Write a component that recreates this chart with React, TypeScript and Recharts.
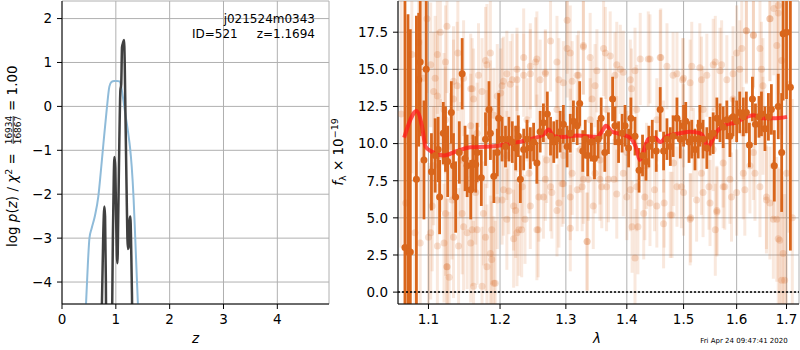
import {
  CartesianGrid,
  ComposedChart,
  ErrorBar,
  Line,
  ReferenceLine,
  Scatter,
  XAxis,
  YAxis,
} from 'recharts'

const FONT = 'DejaVu Sans, sans-serif'
const ORANGE = '#d9661c'

// left panel: log p(z)
const zTicks = [0, 1, 2, 3, 4]
const lnpTicks = [-4, -3, -2, -1, 0, 1, 2]

const zBlue = [0.4, 0.446, 0.48, 0.51, 0.55, 0.61, 0.675, 0.72, 0.77, 0.83, 0.88, 0.92, 0.97, 1.02, 1.07, 1.1, 1.14, 1.18, 1.23, 1.265, 1.295, 1.33, 1.357, 1.39, 1.41, 1.45]
const lnpBlue = [-6, -4.5, -3.6, -3.0, -2.78, -2.5, -2.05, -1.5, -0.84, -0.08, 0.45, 0.56, 0.58, 0.58, 0.57, 0.45, 0.14, -0.2, -0.61, -0.95, -1.37, -2.1, -2.89, -3.9, -4.5, -6]

const zBlack = [0.7, 0.74, 0.765, 0.787, 0.8, 0.815, 0.83, 0.88, 0.925, 0.945, 0.962, 0.975, 0.99, 1.005, 1.02, 1.03, 1.045, 1.065, 1.085, 1.1, 1.115, 1.135, 1.152, 1.165, 1.18, 1.2, 1.215, 1.227, 1.24, 1.255, 1.27, 1.285, 1.3, 1.315, 1.36]
const lnpBlack = [-9, -4.6, -3.0, -2.28, -2.5, -4.0, -7, -9, -5.5, -3.0, -1.6, -1.15, -1.4, -2.5, -3.4, -3.57, -2.5, -0.8, 0.37, 0.5, 1.35, 1.45, 1.51, 1.0, -0.3, -1.9, -3.0, -3.25, -3.2, -2.6, -2.51, -3.2, -4.3, -6, -9]

// right panel: spectrum
const lamTicks = [1.1, 1.2, 1.3, 1.4, 1.5, 1.6, 1.7]
const fluxTicks = [0, 2.5, 5, 7.5, 10, 12.5, 15, 17.5]
const LAM_DOMAIN = [1.06, 1.726]
const FLUX_DOMAIN = [-0.8, 19.6]

const upperLam = [
  1.125, 1.116, 1.103, 1.093, 1.107, 1.112, 1.121, 1.123, 1.134, 1.139,
  1.148, 1.158, 1.162, 1.174, 1.181, 1.186, 1.191, 1.196, 1.201, 1.203,
  1.21, 1.218, 1.225, 1.235, 1.245, 1.253, 1.26, 1.268, 1.276, 1.286,
  1.296, 1.302, 1.307, 1.318, 1.328, 1.339, 1.35, 1.361, 1.372, 1.383,
  1.394, 1.406, 1.414, 1.423, 1.44, 1.458, 1.47, 1.488, 1.5, 1.512,
  1.53, 1.543, 1.555, 1.568, 1.581, 1.593, 1.606, 1.619, 1.633, 1.646,
  1.652, 1.666, 1.68, 1.69, 1.683, 1.098, 1.087, 1.205, 1.215, 1.225,
  1.235, 1.245, 1.255, 1.268, 1.289, 1.302, 1.31, 1.32, 1.328, 1.342,
  1.347, 1.364, 1.38, 1.389, 1.408, 1.437, 1.459, 1.481, 1.498, 1.515,
  1.533, 1.559, 1.571, 1.6, 1.61, 1.619, 1.633, 1.649, 1.666, 1.674,
  1.683, 1.112, 1.123, 1.109, 1.134, 1.14, 1.169, 1.179, 1.186, 1.16,
]
const upperFlux = [
  17.9, 17.5, 15.3, 14.4, 13.5, 13.2, 12.3, 11.6, 13.0, 13.9,
  14.4, 13.7, 13.0, 13.5, 15.3, 12.3, 11.9, 13.2, 13.4, 13.9,
  14.7, 14.3, 15.0, 15.8, 15.2, 15.5, 14.3, 14.8, 16.9, 15.5,
  14.1, 18.3, 16.1, 14.6, 16.6, 15.8, 14.9, 16.4, 15.9, 15.3,
  14.8, 14.3, 14.9, 15.7, 15.7, 15.8, 15.2, 14.7, 14.4, 14.1,
  15.1, 14.6, 15.3, 14.9, 14.3, 14.7, 15.0, 17.6, 17.3, 16.4,
  13.9, 18.4, 16.6, 15.6, 18.8, 18.4, 16.8, 14.2, 14.0, 14.3,
  14.6, 14.7, 15.7, 14.7, 14.3, 16.4, 14.2, 14.6, 16.5, 13.0,
  13.9, 16.1, 14.6, 15.0, 13.7, 15.7, 15.8, 14.6, 14.3, 15.2,
  14.3, 15.5, 15.3, 16.1, 16.4, 17.6, 17.3, 15.0, 18.4, 19.1,
  19.3, 16.0, 15.5, 14.4, 14.2, 16.1, 14.6, 15.6, 16.1, 13.7,
]
const upperErr = [
  4.5, 5.0, 4.2, 5.5, 4.0, 4.4, 3.8, 3.6, 4.0, 4.3,
  3.9, 3.7, 3.4, 3.6, 4.1, 3.3, 3.2, 3.5, 3.0, 3.2,
  2.9, 3.1, 2.8, 3.3, 2.9, 3.0, 2.7, 2.9, 3.4, 3.1,
  2.8, 3.6, 3.2, 2.7, 3.3, 3.0, 2.8, 3.2, 3.0, 2.9,
  2.8, 2.7, 2.9, 3.1, 3.0, 3.2, 2.9, 2.8, 2.7, 2.9,
  3.0, 2.8, 3.1, 2.9, 3.0, 3.2, 3.3, 3.6, 3.5, 3.4,
  3.2, 4.2, 4.0, 5.0, 5.5, 5.0, 6.0, 3.0, 2.9, 3.1,
  2.8, 3.0, 3.2, 2.9, 2.8, 3.3, 2.7, 3.0, 3.2, 2.6,
  2.8, 3.1, 2.9, 3.0, 2.7, 3.2, 3.3, 2.9, 2.8, 3.0,
  2.9, 3.1, 3.0, 3.2, 3.3, 3.5, 3.6, 3.2, 4.2, 4.5,
  5.0, 4.0, 3.8, 4.2, 3.7, 3.9, 3.5, 3.6, 3.8, 3.4,
]

const lowerLam = [
  1.103, 1.112, 1.121, 1.125, 1.134, 1.141, 1.148, 1.153, 1.158, 1.162,
  1.167, 1.176, 1.181, 1.188, 1.191, 1.196, 1.205, 1.21, 1.22, 1.225,
  1.232, 1.245, 1.255, 1.265, 1.276, 1.286, 1.296, 1.307, 1.318, 1.328,
  1.334, 1.344, 1.355, 1.366, 1.378, 1.394, 1.406, 1.417, 1.429, 1.44,
  1.452, 1.464, 1.476, 1.488, 1.5, 1.512, 1.524, 1.536, 1.549, 1.562,
  1.574, 1.587, 1.6, 1.613, 1.626, 1.646, 1.659, 1.673, 1.683, 1.69,
  1.203, 1.213, 1.223, 1.233, 1.243, 1.258, 1.268, 1.278, 1.294, 1.31,
  1.326, 1.336, 1.347, 1.22, 1.228, 1.237, 1.257, 1.307, 1.334, 1.289,
  1.358, 1.369, 1.383, 1.4, 1.409, 1.419, 1.431, 1.448, 1.465, 1.479,
  1.496, 1.513, 1.414, 1.533, 1.547, 1.562, 1.559, 1.577, 1.59, 1.616,
  1.636, 1.659, 1.666, 1.68, 1.686, 1.693, 1.696, 1.105, 1.123, 1.132,
  1.146, 1.16, 1.179, 1.186, 1.125, 1.128, 1.174, 1.193, 1.188, 1.165,
  1.1, 1.089,
]
const lowerFlux = [
  4.0, 3.1, 3.3, 1.7, 3.7, 3.1, 4.4, 4.0, 3.3, 0.4,
  4.2, 5.3, 1.7, 2.2, 0.6, 6.2, 6.9, 4.9, 5.8, 4.0,
  4.2, 5.8, 4.2, 6.4, 7.1, 5.5, 7.3, 6.4, 6.9, 7.6,
  3.4, 5.8, 7.6, 7.1, 7.6, 8.0, 6.9, 7.1, 5.3, 6.0,
  5.8, 4.6, 5.2, 7.1, 6.7, 4.9, 6.2, 6.7, 6.0, 5.4,
  7.1, 7.6, 6.7, 8.0, 8.5, 7.1, 6.2, 4.9, 3.6, 0.8,
  6.2, 6.8, 5.5, 7.1, 8.0, 6.4, 7.6, 6.7, 7.3, 8.0,
  7.1, 7.6, 8.0, 3.6, 4.2, 4.9, 4.2, 4.3, 3.4, 6.0,
  7.1, 7.6, 6.6, 6.4, 4.4, 4.4, 6.4, 6.9, 6.0, 5.2,
  7.1, 5.0, 2.3, 8.0, 7.1, 5.5, 4.2, 7.1, 6.4, 6.9,
  8.0, 6.4, 6.0, 4.9, 3.5, 2.6, 0.8, 5.8, 5.3, 6.2,
  5.3, 4.2, 3.7, 2.6, 1.7, 1.0, 0.4, 0.6, 4.2, 6.7,
  3.7, 3.3,
]
const lowerErr = [
  4.5, 4.2, 4.0, 4.6, 4.1, 3.9, 4.3, 3.8, 4.0, 4.4,
  3.7, 3.5, 4.2, 3.9, 4.5, 3.3, 3.1, 3.4, 3.0, 3.6,
  3.2, 2.9, 3.4, 2.8, 3.0, 3.1, 2.7, 2.9, 2.8, 3.0,
  3.3, 2.9, 2.8, 3.0, 2.7, 2.9, 2.8, 3.0, 3.1, 2.9,
  2.8, 3.0, 2.9, 2.7, 2.9, 3.1, 2.8, 3.0, 2.9, 3.0,
  2.8, 3.0, 2.9, 3.1, 3.2, 3.4, 3.6, 4.0, 4.8, 5.5,
  3.0, 2.9, 3.2, 2.8, 2.7, 3.0, 2.8, 3.1, 2.9, 2.8,
  3.0, 2.8, 2.7, 3.3, 3.1, 3.0, 3.2, 2.9, 3.3, 3.0,
  2.8, 2.9, 3.0, 2.9, 3.1, 3.2, 2.9, 2.8, 3.0, 2.9,
  2.8, 3.0, 3.3, 2.8, 2.9, 3.0, 3.1, 2.9, 3.0, 3.1,
  3.2, 3.5, 3.8, 4.2, 4.8, 5.2, 5.8, 4.4, 4.2, 4.0,
  4.1, 3.8, 3.6, 3.9, 4.6, 4.4, 4.0, 4.2, 3.7, 3.5,
  5.0, 5.5,
]

const midLam = [
  1.107, 1.116, 1.13, 1.144, 1.158, 1.167, 1.181, 1.196, 1.21, 1.225,
  1.24, 1.255, 1.27, 1.286, 1.296, 1.307, 1.323, 1.339, 1.355, 1.366,
  1.383, 1.4, 1.417, 1.434, 1.452, 1.464, 1.482, 1.5, 1.518, 1.536,
  1.555, 1.574, 1.593, 1.613, 1.633, 1.652, 1.673,
  1.064, 1.07, 1.078, 1.082, 1.09, 1.7, 1.705, 1.712,
]
const midFlux = [
  8.5, 9.2, 9.8, 8.9, 11.2, 10.7, 10.3, 9.8, 9.2, 11.0,
  11.6, 10.3, 8.9, 12.3, 9.2, 10.7, 9.6, 11.6, 8.9, 12.3,
  10.3, 9.4, 12.3, 8.5, 11.6, 9.8, 8.7, 11.2, 9.4, 12.3,
  9.6, 8.7, 13.0, 10.7, 9.4, 11.2, 8.5,
  12.0, 6.0, 16.0, 4.0, 11.0, 8.0, 14.0, 5.0,
]
const midErr = [
  4.0, 3.8, 3.6, 3.9, 3.5, 3.4, 3.3, 3.2, 3.0, 2.9,
  2.8, 3.0, 2.9, 2.7, 2.8, 3.0, 2.9, 2.8, 3.0, 2.7,
  2.9, 2.8, 3.0, 2.9, 2.8, 3.1, 2.9, 2.8, 3.0, 2.9,
  2.8, 3.0, 2.9, 3.1, 3.2, 3.3, 3.6,
  9, 9, 8, 8, 6, 9, 10, 8,
]

const darkLam = [
  1.069, 1.073, 1.076, 1.084, 1.087, 1.089, 1.094, 1.097, 1.104, 1.109,
  1.113, 1.115, 1.12, 1.123, 1.126, 1.131, 1.134, 1.137, 1.142, 1.146,
  1.15, 1.153, 1.158, 1.161, 1.165, 1.167, 1.173, 1.179, 1.184, 1.186,
  1.191, 1.196, 1.198, 1.203, 1.208, 1.213, 1.218, 1.223, 1.227, 1.23,
  1.235, 1.24, 1.245, 1.25, 1.255, 1.26, 1.265, 1.271, 1.276, 1.281,
  1.286, 1.291, 1.296, 1.302, 1.307, 1.312, 1.318, 1.322, 1.327, 1.331,
  1.335, 1.341, 1.346, 1.352, 1.357, 1.363, 1.369, 1.376, 1.38, 1.386,
  1.392, 1.397, 1.403, 1.407, 1.414, 1.421, 1.427, 1.433, 1.438, 1.444,
  1.451, 1.458, 1.464, 1.47, 1.476, 1.481, 1.488, 1.494, 1.5, 1.504,
  1.51, 1.515, 1.521, 1.527, 1.53, 1.536, 1.543, 1.549, 1.555, 1.562,
  1.568, 1.574, 1.581, 1.587, 1.593, 1.6, 1.606, 1.613, 1.619, 1.625,
  1.631, 1.637, 1.644, 1.649, 1.656, 1.663, 1.669, 1.675, 1.683, 1.69,
  1.693, 1.7, 1.708,
]
const darkFlux = [
  3.0, 2.7, 2.7, 7.6, 14.3, 15.5, 8.9, 15.0, 8.1, 9.2,
  9.6, 6.4, 10.7, 10.3, 8.8, 12.1, 8.5, 6.4, 9.4, 14.7,
  9.0, 8.5, 6.9, 8.7, 8.6, 9.4, 7.7, 10.3, 12.3, 10.7,
  7.8, 9.4, 11.7, 10.3, 9.8, 10.3, 10.1, 9.7, 10.5, 7.6,
  9.6, 10.3, 9.7, 10.1, 8.7, 10.8, 11.4, 12.0, 10.5, 10.1,
  10.3, 10.8, 11.3, 9.8, 10.7, 11.5, 11.2, 12.7, 9.5, 10.3,
  9.2, 10.1, 9.0, 10.3, 11.7, 9.4, 10.7, 13.0, 11.2, 10.1,
  10.7, 11.2, 9.7, 11.7, 10.5, 8.2, 9.2, 8.8, 9.8, 10.3,
  9.5, 12.3, 9.5, 10.3, 9.8, 10.5, 11.7, 10.3, 11.2, 11.5,
  10.1, 10.3, 9.6, 10.3, 11.2, 10.3, 9.7, 10.5, 10.7, 11.7,
  11.4, 11.1, 11.6, 10.5, 11.8, 11.5, 12.1, 11.8, 12.1, 9.9,
  13.0, 11.3, 11.8, 12.0, 11.0, 11.8, 12.3, 8.5, 12.5, 9.4,
  17.4, 17.5, 13.8,
]
const darkErr = [
  17, 16, 15, 11, 4.5, 5, 4, 5, 2.6, 2.5,
  2.2, 2.5, 2.1, 2.2, 2.4, 2.1, 2.2, 2.4, 2.1, 2.4,
  2.2, 2.1, 2.0, 1.9, 1.9, 2.0, 1.9, 1.8, 1.9, 1.8,
  1.8, 1.6, 1.7, 1.5, 1.4, 1.5, 1.4, 1.5, 1.4, 1.6,
  1.4, 1.3, 1.4, 1.3, 1.4, 1.4, 1.3, 1.5, 1.3, 1.4,
  1.3, 1.4, 1.3, 1.4, 1.3, 1.4, 1.3, 1.5, 1.4, 1.3,
  1.4, 1.3, 1.4, 1.3, 1.4, 1.3, 1.4, 1.5, 1.3, 1.4,
  1.3, 1.4, 1.3, 1.4, 1.3, 1.5, 1.4, 1.3, 1.4, 1.3,
  1.4, 1.5, 1.3, 1.4, 1.3, 1.4, 1.4, 1.3, 1.4, 1.3,
  1.4, 1.3, 1.4, 1.3, 1.4, 1.3, 1.4, 1.3, 1.4, 1.4,
  1.3, 1.4, 1.3, 1.4, 1.3, 1.4, 1.4, 1.3, 1.4, 1.5,
  1.5, 1.4, 1.4, 1.5, 1.5, 1.6, 1.7, 2.4, 2.2, 4.0,
  4.5, 4.5, 11,
]

const modelLam = [
  1.068, 1.076, 1.084, 1.092, 1.096, 1.103, 1.121, 1.139, 1.158, 1.186,
  1.215, 1.245, 1.265, 1.273, 1.281, 1.296, 1.318, 1.35, 1.358, 1.365,
  1.375, 1.394, 1.408, 1.417, 1.422, 1.428, 1.437, 1.449, 1.458, 1.47,
  1.494, 1.512, 1.53, 1.54, 1.544, 1.549, 1.562, 1.581, 1.597, 1.613,
  1.633, 1.652, 1.673, 1.701,
]
const modelFlux = [
  10.4, 11.6, 12.2, 11.0, 9.8, 9.5, 9.2, 9.5, 9.75, 9.8,
  10.0, 10.3, 10.6, 10.95, 10.5, 10.45, 10.55, 10.45, 10.8, 11.2,
  10.8, 10.6, 10.3, 9.6, 8.9, 9.4, 10.3, 10.4, 10.1, 10.5,
  10.7, 10.8, 10.7, 10.2, 9.6, 9.9, 10.8, 11.3, 11.4, 11.7,
  11.9, 11.7, 11.7, 11.8,
]

const blueData = zBlue.map((z, i) => ({ z, lnp: lnpBlue[i] }))
const blackData = zBlack.map((z, i) => ({ z, lnp: lnpBlack[i] }))

// error bars are cut at the plot edges, as matplotlib clips them
const toPoints = (lam: number[], flux: number[], err: number[]) =>
  lam.map((x, i) => ({
    x,
    y: flux[i],
    err: [
      Math.min(err[i], flux[i] - FLUX_DOMAIN[0]),
      Math.min(err[i], FLUX_DOMAIN[1] - flux[i]),
    ],
  }))

const lightData = [
  ...toPoints(upperLam, upperFlux, upperErr),
  ...toPoints(lowerLam, lowerFlux, lowerErr),
  ...toPoints(midLam, midFlux, midErr),
]
const darkData = toPoints(darkLam, darkFlux, darkErr)
const modelData = modelLam.map((x, i) => ({ x, y: modelFlux[i] }))

const tickStyle = { fontFamily: FONT, fontSize: 13.5, fill: '#000' }
const axisLine = { stroke: '#000', strokeWidth: 1 }
const minus = (v: number) => (v < 0 ? `\u2212${Math.abs(v)}` : `${v}`)

const LightDot = (p: any) => <circle cx={p.cx} cy={p.cy} r={3.5} fill={ORANGE} fillOpacity={0.2} />
const DarkDot = (p: any) => <circle cx={p.cx} cy={p.cy} r={3.5} fill={ORANGE} />

const PzPanel = () => (
  <ComposedChart width={340} height={350} margin={{ top: 1, right: 11, bottom: 0, left: 0 }}>
    <CartesianGrid stroke="#b0b0b0" strokeWidth={1} />
    <XAxis
      type="number"
      dataKey="z"
      domain={[0, 4.96]}
      ticks={zTicks}
      interval={0}
      allowDataOverflow
      height={46}
      tick={tickStyle}
      tickSize={5}
      tickMargin={5}
      tickLine={axisLine}
      axisLine={axisLine}
    />
    <YAxis
      type="number"
      domain={[-4.5, 2.4]}
      ticks={lnpTicks}
      interval={0}
      allowDataOverflow
      width={62}
      tick={tickStyle}
      tickSize={5}
      tickMargin={5}
      tickLine={axisLine}
      axisLine={axisLine}
      tickFormatter={minus}
    />
    <XAxis xAxisId="top" orientation="top" type="number" domain={[0, 4.96]} height={0} tick={false} tickLine={false} axisLine={axisLine} />
    <YAxis yAxisId="right" orientation="right" type="number" domain={[-4.5, 2.4]} width={0} tick={false} tickLine={false} axisLine={axisLine} />
    <Line data={blueData} dataKey="lnp" type="monotone" stroke="#8fbbd9" strokeWidth={2} dot={false} isAnimationActive={false} />
    <Line data={blackData} dataKey="lnp" type="monotone" stroke="#404040" strokeWidth={2.5} dot={false} isAnimationActive={false} />
  </ComposedChart>
)

const SpecPanel = () => (
  <ComposedChart width={470} height={350} margin={{ top: 1, right: 1, bottom: 0, left: 0 }}>
    <CartesianGrid stroke="#b0b0b0" strokeWidth={1} />
    <XAxis
      type="number"
      dataKey="x"
      scale="log"
      domain={LAM_DOMAIN}
      ticks={lamTicks}
      interval={0}
      allowDataOverflow
      height={46}
      tick={tickStyle}
      tickSize={5}
      tickMargin={5}
      tickLine={axisLine}
      axisLine={axisLine}
      tickFormatter={(v: number) => v.toFixed(1)}
    />
    <YAxis
      type="number"
      dataKey="y"
      domain={FLUX_DOMAIN}
      ticks={fluxTicks}
      interval={0}
      allowDataOverflow
      width={68}
      tick={tickStyle}
      tickSize={5}
      tickMargin={5}
      tickLine={axisLine}
      axisLine={axisLine}
      tickFormatter={(v: number) => v.toFixed(1)}
    />
    <XAxis xAxisId="top" orientation="top" type="number" domain={LAM_DOMAIN} height={0} tick={false} tickLine={false} axisLine={axisLine} />
    <YAxis yAxisId="right" orientation="right" type="number" domain={FLUX_DOMAIN} width={0} tick={false} tickLine={false} axisLine={axisLine} />
    <Scatter data={lightData} shape={LightDot} isAnimationActive={false}>
      <ErrorBar dataKey="err" direction="y" width={0} stroke={ORANGE} strokeWidth={3} strokeOpacity={0.15} isAnimationActive={false} />
    </Scatter>
    <Scatter data={darkData} shape={DarkDot} isAnimationActive={false}>
      <ErrorBar dataKey="err" direction="y" width={0} stroke={ORANGE} strokeWidth={2.8} isAnimationActive={false} />
    </Scatter>
    <Line data={modelData} dataKey="y" type="monotone" stroke="#ff1a1a" strokeOpacity={0.75} strokeWidth={4} dot={false} isAnimationActive={false} />
    <ReferenceLine y={0} stroke="#000" strokeWidth={1.5} strokeDasharray="2 2" />
  </ComposedChart>
)

export default function App() {
  return (
    <div style={{ position: 'absolute', left: 0, top: 0, width: 800, height: 350, background: '#fff' }}>
      <div style={{ position: 'absolute', left: 0, top: 0 }}>
        <PzPanel />
      </div>
      <div style={{ position: 'absolute', left: 330, top: 0 }}>
        <SpecPanel />
      </div>
      <svg
        width={800}
        height={350}
        style={{ position: 'absolute', left: 0, top: 0, pointerEvents: 'none' }}
        fontFamily={FONT}
        fill="#000"
      >
        <text x={315} y={23} fontSize={12} textAnchor="end">j021524m0343</text>
        <text x={192} y={38} fontSize={12}>ID=521</text>
        <text x={315} y={38} fontSize={12} textAnchor="end">z=1.1694</text>

        <g transform="translate(17,247) rotate(-90)">
          <text x={0} y={0} fontSize={13.5}>
            {'log '}
            <tspan fontStyle="italic">p</tspan>
            {'('}
            <tspan fontStyle="italic">z</tspan>
            {') / '}
            <tspan fontStyle="italic">χ</tspan>
            <tspan fontSize={9.5} dy={-5.5}>2</tspan>
            <tspan dy={5.5}>{' ='}</tspan>
          </text>
          <text x={117} y={-5.5} fontSize={9} textAnchor="middle">16934</text>
          <line x1={103} x2={131} y1={-3.8} y2={-3.8} stroke="#000" strokeWidth={0.8} />
          <text x={117} y={4} fontSize={9} textAnchor="middle">16867</text>
          <text x={136} y={0} fontSize={13.5}>= 1.00</text>
        </g>

        <g transform="translate(343,152) rotate(-90)">
          <text x={0} y={0} fontSize={13.5} textAnchor="middle">
            <tspan fontStyle="italic">f</tspan>
            <tspan fontSize={9.5} dy={3}>λ</tspan>
            <tspan dy={-3}>{' × 10'}</tspan>
            <tspan fontSize={9.5} dy={-5.5}>−19</tspan>
          </text>
        </g>

        <text x={195.5} y={343} fontSize={13.5} fontStyle="italic" textAnchor="middle">z</text>
        <text x={597} y={343} fontSize={13.5} fontStyle="italic" textAnchor="middle">λ</text>
        <text x={787.7} y={343} fontSize={7} textAnchor="end">Fri Apr 24 09:47:41 2020</text>
      </svg>
    </div>
  )
}
